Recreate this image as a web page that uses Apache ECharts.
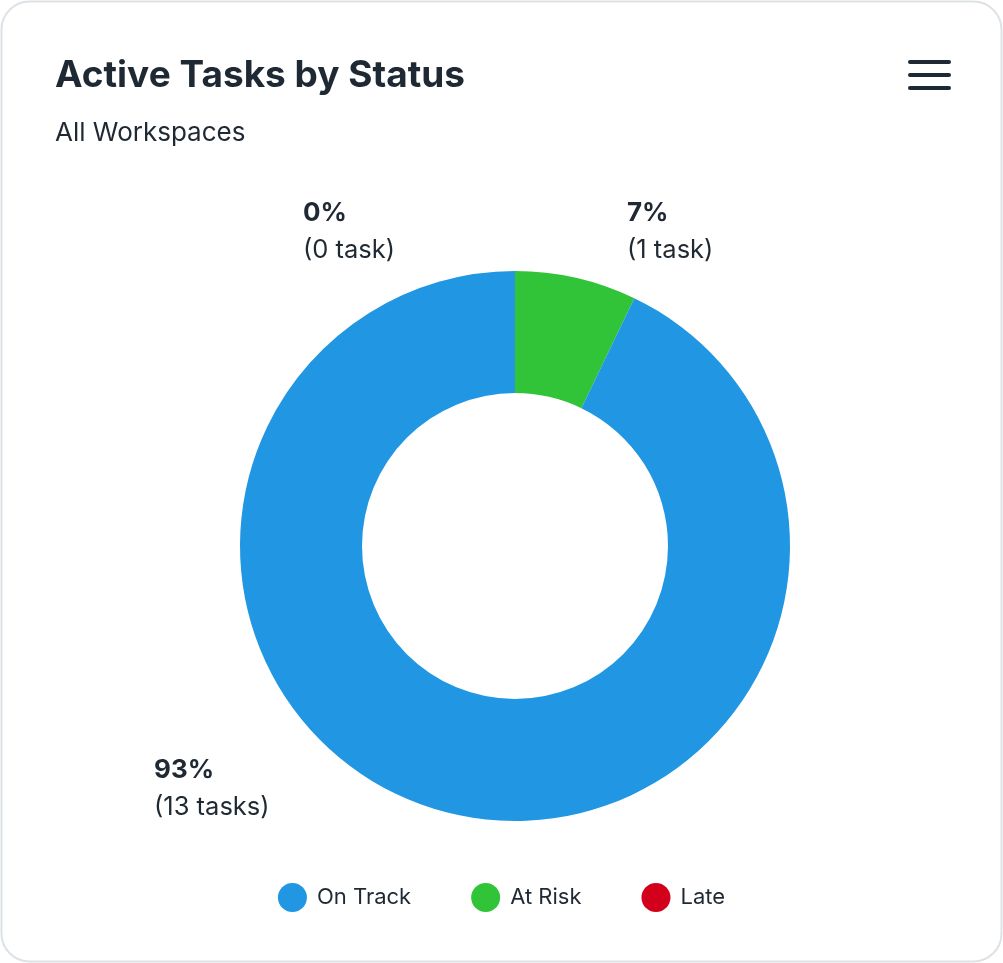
<!DOCTYPE html>
<html><head><meta charset="utf-8">
<script src="https://cdn.jsdelivr.net/npm/echarts@6/dist/echarts.min.js"></script>
<style>html,body{margin:0;padding:0;background:#fff}#c{width:1003px;height:963px}</style>
</head><body><div id="c"></div>
<script>
const categories = ['At Risk', 'Late', 'On Track'];
const values = [1, 0, 13];
const percents = ['7%', '0%', '93%'];
const legendOrder = ['On Track', 'At Risk', 'Late'];
const colors = {'On Track': '#2196e3', 'At Risk': '#31c438', 'Late': '#d3001c'};
const labelPos = {'At Risk': [627, 195], 'Late': [303, 195], 'On Track': [154, 752]};

const chart = echarts.init(document.getElementById('c'));
chart.setOption({
  textStyle: {fontFamily: 'Inter'},
  graphic: [
    {type: 'rect', shape: {x: 1.5, y: 1.5, width: 1000, height: 960, r: 28}, style: {fill: '#fff', stroke: '#dde2e6', lineWidth: 2}, z: -10},
    {type: 'rect', shape: {x: 908, y: 60, width: 43, height: 4, r: 2}, style: {fill: '#1f2933'}},
    {type: 'rect', shape: {x: 908, y: 73, width: 43, height: 4, r: 2}, style: {fill: '#1f2933'}},
    {type: 'rect', shape: {x: 908, y: 86, width: 43, height: 4, r: 2}, style: {fill: '#1f2933'}}
  ],
  title: {
    text: 'Active Tasks by Status', subtext: 'All Workspaces', left: 50, top: 52, itemGap: 26,
    textStyle: {fontFamily: 'Inter', fontSize: 37, fontWeight: 'bold', color: '#1f2933'},
    subtextStyle: {fontFamily: 'Inter', fontSize: 26, color: '#1f2933'}
  },
  legend: {
    data: legendOrder, bottom: 46, left: 'center', icon: 'circle', itemWidth: 29, itemHeight: 29, itemGap: 60,
    textStyle: {fontFamily: 'Inter', fontSize: 22, color: '#1f2933', padding: [0, 0, 0, 5]}
  },
  series: [{
    type: 'pie', center: [515, 546], radius: [153, 275], startAngle: 90, clockwise: true,
    avoidLabelOverlap: false, animation: false,
    data: categories.map((c, i) => ({name: c, value: values[i], itemStyle: {color: colors[c]}})),
    label: {
      show: true, position: 'outside', alignTo: 'none',
      formatter: p => '{b|' + percents[p.dataIndex] + '}\n{n|(' + values[p.dataIndex] + ' task' + (values[p.dataIndex] > 1 ? 's' : '') + ')}',
      rich: {
        b: {fontFamily: 'Inter', fontSize: 26, fontWeight: 'bold', color: '#1f2933', lineHeight: 37},
        n: {fontFamily: 'Inter', fontSize: 25.5, color: '#1f2933', lineHeight: 37}
      }
    },
    labelLine: {show: false},
    labelLayout: p => {
      const pos = labelPos[categories[p.dataIndex]];
      return {x: pos[0], y: pos[1], align: 'left', verticalAlign: 'top', hideOverlap: false};
    },
    emphasis: {disabled: true}
  }]
});
</script></body></html>
